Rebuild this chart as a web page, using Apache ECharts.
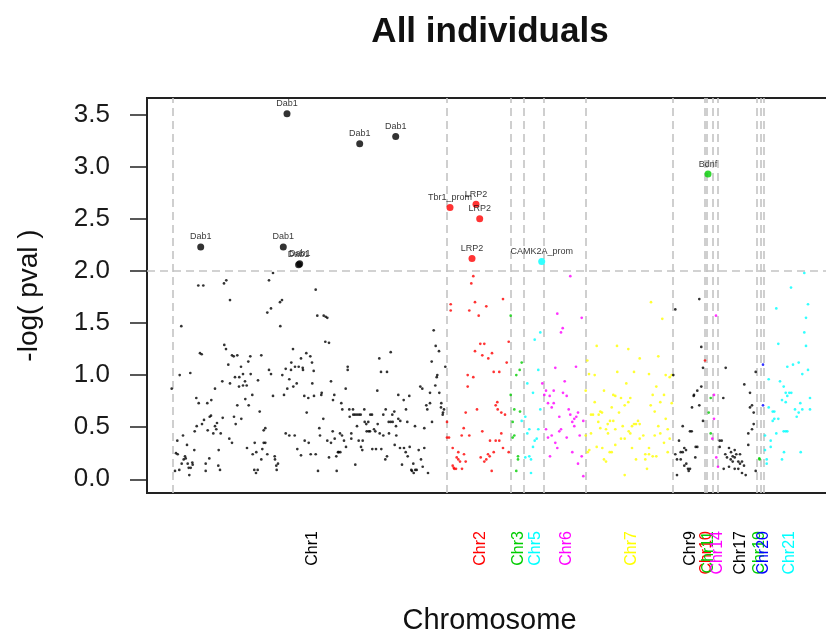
<!DOCTYPE html>
<html>
<head>
<meta charset="utf-8">
<title>All individuals</title>
<script src="https://cdn.jsdelivr.net/npm/echarts@6/dist/echarts.min.js"></script>
<style>
  html, body { margin: 0; padding: 0; background: #fff; }
  #main { width: 826px; height: 636px; }
</style>
</head>
<body>
<div id="main"></div>
<script>
// positions are in plot units along the genome, y is -log(pval)
var chr1 = [[171.7,0.87],[175,0.08],[176,0.25],[177.3,0.37],[177.7,0.24],[179.3,0.09],[179.7,1.0],[181.3,1.47],[181.7,0.15],[183,0.42],[183.7,0.19],[185,0.22],[185.7,0.2],[187,0.33],[187.7,0.15],[188.7,0.11],[189.3,0.04],[190.3,1.02],[190.7,0.11],[192.3,0.16],[192.7,0.14],[194.3,0.28],[194.7,0.46],[196.3,0.78],[196.7,0.51],[198.3,1.86],[198.7,0.73],[200,1.21],[201.7,1.2],[202,0.53],[203.3,1.86],[204,0.57],[205.7,0.15],[205.7,0.08],[207.3,0.73],[207.7,0.47],[209.3,0.2],[209.7,0.6],[211,0.61],[211.3,0.76],[213.3,0.44],[215,0.87],[215,0.51],[216.3,0.48],[217,0.54],[218.3,0.13],[218.7,0.28],[220,0.09],[220.7,0.44],[222.3,0.94],[222.7,0.59],[224,1.88],[224.3,1.29],[226,1.25],[226.3,1.91],[228.3,1.1],[229.3,0.39],[230,0.92],[230,1.72],[232,0.35],[232,1.19],[233.7,1.18],[234,0.6],[235,0.98],[235.7,0.53],[237.3,1.19],[237.3,0.71],[239,0.89],[239.3,0.98],[241,1.08],[241.3,0.58],[243,0.9],[243,1.01],[245,0.94],[245.3,0.77],[246.7,0.9],[247,0.3],[248.3,1.13],[248.7,0.71],[250.3,1.18],[250.7,1.01],[252.3,0.81],[252.7,0.24],[254.3,0.09],[254.7,0.35],[256,0.06],[256.3,0.26],[257.7,0.09],[258,0.95],[259.7,0.65],[261.3,1.19],[261.3,0.19],[262.3,0.29],[263.7,0.47],[263.7,0.35],[265.3,0.49],[265.3,0.35],[267.3,1.6],[267.3,0.24],[269,1.91],[269,1.05],[271,1.64],[271,1.01],[273,1.98],[273,0.8],[274.7,0.22],[275,0.19],[276.3,0.13],[276.7,0.09],[278,0.15],[280,1.7],[280.3,1.47],[282,1.72],[282.3,1.0],[284,0.81],[285.7,1.06],[285.7,0.44],[287.3,0.87],[289.3,0.96],[289.3,0.42],[291,1.05],[291.3,1.12],[293,1.25],[293.3,0.89],[294.7,0.42],[295,1.08],[296.7,0.92],[297.3,0.29],[298.7,1.08],[301,1.16],[301,0.23],[302.7,1.07],[303,1.05],[304.3,0.8],[304.7,0.37],[306.3,1.21],[306.7,0.64],[308.3,0.78],[308.7,0.35],[310.3,1.18],[310.7,0.24],[312,1.12],[312.3,0.92],[313.7,1.04],[314,0.8],[315.7,1.82],[315.7,0.24],[317.3,1.57],[318,0.08],[319.3,0.49],[320,0.42],[321.3,0.81],[321.7,0.83],[323.3,0.58],[323.7,1.57],[325.3,1.32],[325.7,1.56],[327.3,1.55],[327.3,0.37],[329,1.31],[329,0.21],[331,0.94],[331,0.35],[332.7,0.46],[333,0.76],[334.3,0.81],[334.7,0.39],[336.3,0.22],[336.7,0.08],[338,0.26],[338.7,0.26],[340,0.44],[340.3,0.26],[341.3,0.73],[342,0.42],[342.3,0.67],[344,0.37],[345.7,0.87],[346,0.31],[347.7,1.08],[347.7,1.05],[349.3,0.67],[349.7,0.6],[351.3,0.44],[351.3,0.39],[353,0.67],[353.3,0.62],[355,0.62],[355.3,0.14],[357,0.62],[357,0.51],[358.7,0.37],[359,0.62],[360.7,0.62],[361,0.31],[362.3,0.28],[362.7,0.37],[364.3,0.67],[364.7,0.55],[366.3,0.53],[366.7,0.46],[368.3,0.55],[368.7,0.46],[370,0.46],[370.3,0.62],[372,0.62],[372.3,0.29],[374,0.48],[375.3,0.46],[376,0.29],[377.3,0.85],[377.7,0.53],[379.3,1.16],[379.7,0.44],[381,1.03],[381.3,0.29],[383.3,0.62],[383.3,0.42],[385.3,0.19],[385.7,0.67],[387,0.22],[387,1.03],[388.7,0.55],[389,0.44],[390.7,1.22],[390.7,0.55],[392.3,0.62],[392.7,0.55],[394.3,0.65],[394.7,0.33],[396,0.51],[396.3,0.42],[398.3,0.81],[398.3,0.58],[400,0.3],[400.3,0.56],[402,0.14],[403.7,0.76],[404,0.3],[405.7,0.26],[406,0.67],[407.3,0.55],[407.7,0.22],[409.3,0.8],[409.7,0.31],[411.3,0.09],[412,0.08],[413.3,0.15],[413.7,0.06],[415,0.51],[415.3,0.09],[416.7,0.09],[418.7,0.28],[420.3,0.89],[421,0.19],[422.3,0.87],[422.7,0.12],[424.3,0.3],[424.3,0.49],[426.3,0.71],[427.3,0.67],[428,0.06],[430,0.73],[430,0.83],[431.7,1.13],[432,0.55],[433.7,1.43],[435.3,0.9],[435.7,1.28],[436.7,0.98],[437.3,1.0],[439,1.23],[439.3,0.83],[441,0.69],[441.3,0.73],[442.7,0.62],[443,0.64],[444,0.67],[445.3,1.08]];
var chr2 = [[473.3,1.95],[471.3,1.88],[450.7,1.68],[450.7,1.62],[475,1.7],[469.3,1.62],[478.7,1.57],[486.3,1.66],[503,1.73],[508.7,1.32],[480.3,1.3],[484.3,1.3],[475,1.23],[482.3,1.19],[492,1.21],[488.3,1.16],[506.7,1.12],[493.7,1.03],[499.3,1.03],[467.7,1.0],[473.3,0.98],[467.7,0.89],[447,0.55],[497.3,0.74],[495.7,0.71],[477,0.67],[465.7,0.64],[497.7,0.67],[501.3,0.64],[505,0.62],[463.7,0.49],[482.3,0.46],[461.7,0.42],[469.3,0.42],[501.3,0.44],[447,0.4],[449,0.4],[490,0.37],[495.7,0.37],[499.3,0.37],[452.7,0.3],[503,0.3],[493.7,0.26],[508.7,0.26],[458.3,0.26],[464,0.24],[488,0.24],[489.7,0.22],[456.7,0.21],[480.7,0.21],[486.3,0.19],[458.3,0.19],[460,0.17],[465.7,0.17],[484.3,0.17],[452.7,0.13],[454.3,0.1],[456,0.1],[462,0.1],[491.7,0.08],[453.7,0.11]];
var chr3 = [[510.7,1.57],[521.7,1.12],[519.7,1.05],[516.3,1.0],[510.7,0.81],[514.3,0.67],[520,0.65],[512.7,0.55],[514.3,0.42],[512.7,0.4],[518,0.22],[518,0.19],[516.3,0.08]];
var chr5 = [[540.3,1.41],[534.7,1.34],[538.3,1.05],[527.3,0.92],[533,0.83],[540.3,0.67],[525.3,0.6],[521.7,0.56],[529.3,0.48],[527.3,0.44],[538.3,0.48],[536.7,0.39],[534.7,0.37],[533,0.31],[525.3,0.21],[529.3,0.22],[531,0.19],[531,0.06]];
var chr6 = [[570.3,1.95],[581.7,1.55],[557.3,1.59],[562.7,1.45],[561,1.41],[555.3,1.07],[576,1.08],[542.3,0.92],[564.7,0.94],[546,0.85],[553.7,0.85],[544.3,0.81],[549.7,0.8],[563,0.83],[566.7,0.8],[548,0.73],[553.7,0.73],[551.7,0.69],[568.7,0.67],[559.3,0.6],[570.3,0.62],[578,0.64],[576.3,0.6],[574.3,0.58],[583.3,0.56],[572.3,0.55],[574.3,0.51],[546,0.48],[561,0.48],[559.3,0.46],[551.7,0.42],[548,0.4],[566.7,0.4],[579.7,0.42],[555.3,0.35],[557.3,0.3],[572.3,0.26],[550,0.22],[581.7,0.22],[578,0.15],[583.3,0.03]];
var chr7 = [[651,1.7],[662.3,1.54],[596.7,1.28],[617,1.28],[628.3,1.25],[639.7,1.16],[658.3,1.18],[587.3,1.14],[589,1.01],[594.7,1.0],[617.3,1.03],[634,1.03],[649,1.01],[665.7,1.0],[669.7,0.98],[671.7,1.0],[626.3,0.92],[656.3,0.89],[585.7,0.85],[604,0.85],[613.3,0.81],[615.3,0.8],[621,0.78],[630.3,0.78],[652.7,0.81],[664,0.81],[628.3,0.74],[594.7,0.74],[660.3,0.74],[671.7,0.73],[650.7,0.71],[611.7,0.69],[624.7,0.71],[600.3,0.65],[654.7,0.65],[619,0.64],[591,0.62],[593,0.62],[598.7,0.62],[602,0.64],[610,0.56],[613.3,0.56],[638,0.56],[665.7,0.58],[598.3,0.55],[607.7,0.53],[634,0.53],[636,0.53],[639.7,0.53],[622.7,0.51],[632,0.51],[658.3,0.51],[600.3,0.49],[606,0.48],[615.3,0.48],[667.7,0.48],[628.7,0.46],[591,0.44],[630.3,0.44],[608,0.44],[643.3,0.42],[654.7,0.42],[660.3,0.44],[585.7,0.42],[621,0.39],[624.7,0.39],[639.7,0.39],[669.7,0.39],[596.7,0.31],[615.3,0.33],[632,0.3],[649,0.3],[664,0.35],[602.3,0.3],[587.7,0.26],[589.3,0.28],[609.7,0.26],[611.7,0.26],[667.7,0.26],[645.3,0.24],[649,0.24],[652.7,0.22],[656.3,0.22],[604,0.19],[606,0.17],[636,0.19],[645.3,0.19],[647,0.1],[624.7,0.04]];
var chr9 = [[699.3,1.73],[675.3,1.63],[701.3,1.27],[703,1.07],[673.3,1.0],[701.3,0.89],[697.3,0.85],[694,0.81],[693.7,0.8],[699.3,0.71],[692,0.69],[703,0.56],[682.7,0.51],[690,0.46],[691.7,0.46],[679,0.37],[684.3,0.3],[686,0.28],[680.7,0.26],[682.7,0.26],[675.3,0.24],[695.7,0.31],[697.3,0.31],[677,0.19],[680.7,0.19],[695.3,0.21],[686.3,0.15],[684.3,0.13],[688,0.1],[690,0.1],[688.7,0.08],[677,0.04]];
var chr10 = [[705,1.14]];
var chr11 = [[710.7,0.78],[708.7,0.64],[710.7,0.44]];
var chr14 = [[716,1.57],[714,0.81],[714,0.58],[712.3,0.39],[716.3,0.21],[718,0.12]];
var chr17 = [[725.7,1.07],[723.3,0.78],[744.3,0.91],[750,0.83],[752,0.71],[750,0.69],[753.7,0.64],[755.7,1.03],[753.7,0.53],[752,0.48],[748.3,0.44],[748.3,0.33],[719.7,0.37],[721.7,0.37],[719.7,0.31],[729,0.3],[731,0.26],[734.7,0.28],[740,0.24],[725.3,0.24],[727,0.21],[736.3,0.24],[732.7,0.22],[734.7,0.21],[730.7,0.19],[732.7,0.17],[738.3,0.17],[742,0.17],[740,0.15],[744,0.13],[729,0.12],[723.7,0.1],[734.7,0.1],[738.3,0.1],[742,0.06],[745.7,0.04],[755.7,0.08]];
var chr19 = [[759.3,0.2],[759.6,0.19]];
var chr20 = [[763,1.1],[763,0.71]];
var chr21 = [[766.7,0.19],[766.7,0.15],[804.3,1.98],[791,1.84],[808,1.68],[776.3,1.64],[806,1.55],[804.3,1.41],[778.3,1.3],[806,1.28],[798.7,1.12],[793,1.1],[787.3,1.08],[808,1.05],[802.3,1.01],[768.7,0.96],[780,0.94],[783.7,0.89],[789.3,0.83],[791.3,0.83],[785.7,0.83],[787.3,0.8],[810,0.78],[782,0.76],[785.7,0.74],[800.3,0.73],[768.7,0.69],[795,0.67],[802.3,0.67],[810,0.67],[772.7,0.65],[774.3,0.65],[798.7,0.64],[796.7,0.6],[774.3,0.58],[778.3,0.58],[772.7,0.56],[783.7,0.46],[785.7,0.46],[787.3,0.46],[776.3,0.44],[765,0.42],[770.7,0.37],[770.7,0.31],[765,0.28],[784,0.26],[800.7,0.26],[782,0.19]];

// chromosome label positions, names and colours (R palette)
var chrNames  = ['Chr1','Chr2','Chr3','Chr5','Chr6','Chr7','Chr9','Chr10','Chr11','Chr14','Chr17','Chr19','Chr20','Chr21'];
var chrLabelX = [313,481,519,536,566.5,631.5,691,706.5,708.5,718,741,760,764,790];
var chrColors = ['#000000','#ff0000','#00cd00','#00ffff','#ff00ff','#ffff00','#000000','#ff0000','#00cd00','#ff00ff','#000000','#00cd00','#0000ff','#00ffff'];
var chrPoints = [chr1,chr2,chr3,chr5,chr6,chr7,chr9,chr10,chr11,chr14,chr17,chr19,chr20,chr21];

// chromosome boundaries (dashed lines) and threshold
var chrBounds = [173,447,511,524,544,586,673,705,707,713,718,757,761,764];
var threshold = 2;

// named hits above threshold
var hitNames  = ['Dab1','Dab1','Dab1','Dab1','Dab1','Dab1','Dab1','Tbr1_prom','LRP2','LRP2','LRP2','CAMK2A_prom','Bdnf'];
var hitX      = [200.7,287,359.7,395.7,283.3,299.7,298.6,450,476,479.7,472,541.7,708];
var hitY      = [2.23,3.51,3.22,3.29,2.23,2.07,2.06,2.61,2.64,2.5,2.12,2.09,2.93];
var hitColors = ['#000000','#000000','#000000','#000000','#000000','#000000','#000000','#ff0000','#ff0000','#ff0000','#ff0000','#00ffff','#00cd00'];

var yTicks = [0,0.5,1,1.5,2,2.5,3,3.5];

var FONT = '"Liberation Sans", Arial, sans-serif';

var series = chrPoints.map(function (pts, i) {
  return {
    type: 'scatter',
    name: chrNames[i],
    data: pts,
    symbol: 'circle',
    symbolSize: 2.7,
    itemStyle: { color: chrColors[i] },
    silent: true,
    z: 3
  };
});

series[0].markLine = {
  silent: true,
  symbol: 'none',
  label: { show: false },
  lineStyle: { color: '#c4c4c4', type: [8, 5], width: 1.6 },
  z: 1,
  data: chrBounds.map(function (x) { return { xAxis: x }; }).concat([{ yAxis: threshold }])
};

series.push({
  type: 'scatter',
  name: 'hits',
  data: hitX.map(function (x, i) {
    return { value: [x, hitY[i]], name: hitNames[i], itemStyle: { color: hitColors[i] } };
  }),
  symbol: 'circle',
  symbolSize: 7,
  silent: true,
  z: 5,
  label: {
    show: true,
    position: 'top',
    distance: 2,
    formatter: '{b}',
    fontFamily: FONT,
    fontSize: 9,
    color: '#000'
  }
});

var chart = echarts.init(document.getElementById('main'));
chart.setOption({
  animation: false,
  backgroundColor: '#fff',
  title: {
    text: 'All individuals',
    left: 485,
    top: 10,
    textAlign: 'center',
    textStyle: { fontFamily: FONT, fontSize: 35, fontWeight: 'bold', color: '#111' }
  },
  grid: {
    left: 147,
    top: 98,
    width: 685,
    bottom: 143,
    outerBoundsMode: 'none',
    containLabel: false,
    show: true,
    borderColor: '#222',
    borderWidth: 2,
    backgroundColor: 'transparent'
  },
  xAxis: {
    type: 'value',
    min: 147,
    max: 832,
    name: 'Chromosome',
    nameLocation: 'middle',
    nameGap: 113,
    nameTextStyle: { fontFamily: FONT, fontSize: 29, color: '#111' },
    axisLine: { show: false },
    axisTick: { show: false },
    splitLine: { show: false },
    axisLabel: {
      customValues: chrLabelX,
      rotate: 90,
      margin: 38,
      fontFamily: FONT,
      fontSize: 16,
      formatter: function (v) {
        for (var i = 0; i < chrLabelX.length; i++) {
          if (Math.abs(chrLabelX[i] - v) < 0.01) return chrNames[i];
        }
        return '';
      },
      color: function (v) {
        for (var i = 0; i < chrLabelX.length; i++) {
          if (Math.abs(chrLabelX[i] - Number(v)) < 0.01) return chrColors[i];
        }
        return '#000';
      }
    }
  },
  yAxis: {
    type: 'value',
    min: -0.132,
    max: 3.66,
    name: '-log( pval )',
    nameLocation: 'middle',
    nameGap: 104,
    nameTextStyle: { fontFamily: FONT, fontSize: 28, color: '#111' },
    axisLine: { show: false },
    splitLine: { show: false },
    axisTick: {
      show: true,
      customValues: yTicks,
      length: 17,
      lineStyle: { color: '#222', width: 1.5 }
    },
    axisLabel: {
      customValues: yTicks,
      margin: 37,
      fontFamily: FONT,
      fontSize: 26,
      color: '#1a1a1a',
      formatter: function (v) { return v.toFixed(1); }
    }
  },
  series: series
});
</script>
</body>
</html>
